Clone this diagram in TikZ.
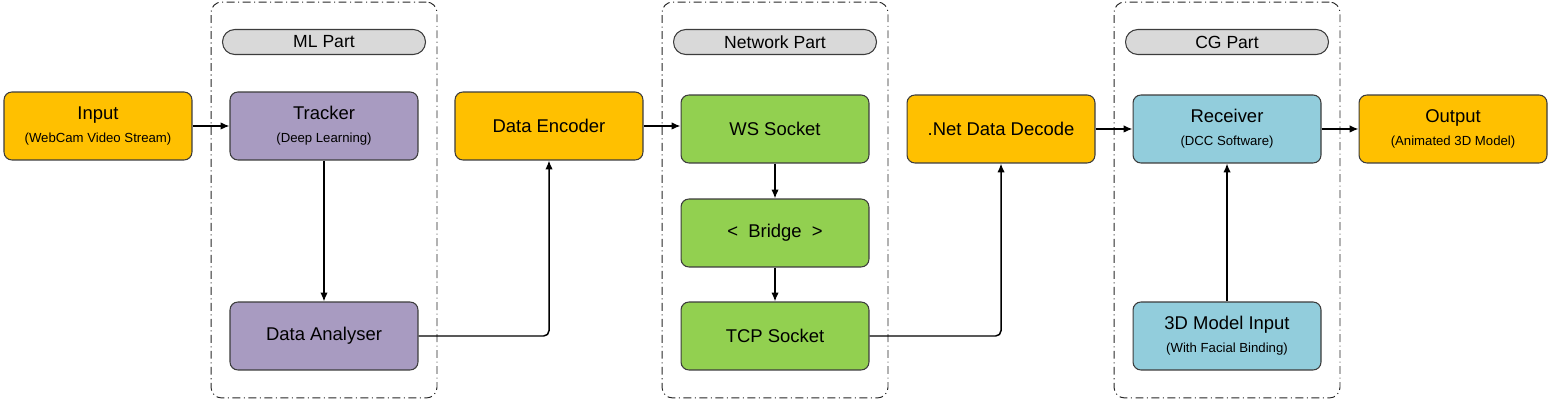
\documentclass[tikz,border=0pt]{standalone}
\usepackage{fontspec}
\setmainfont{Liberation Sans}
\usetikzlibrary{arrows.meta}
\definecolor{ioc}{RGB}{255,192,0}
\definecolor{mlc}{RGB}{168,155,193}
\definecolor{netc}{RGB}{146,208,80}
\definecolor{cgc}{RGB}{146,205,220}
\definecolor{tagc}{RGB}{217,217,217}
\definecolor{edgec}{RGB}{60,60,60}
\newcommand{\subtxt}[1]{{\fontsize{7.5}{9}\selectfont #1}}

\begin{document}
\begin{tikzpicture}[x=0.02cm,y=-0.02cm,>={Latex[length=5pt,width=4.2pt]},
  blk/.style={draw=edgec,line width=0.6pt,rounded corners=4.5pt,minimum width=3.76cm,
    minimum height=1.36cm,inner sep=0pt,align=center,font=\fontsize{10.5}{13}\selectfont},
  partbox/.style={draw=black!85,line width=0.55pt,rounded corners=6pt,
    dash pattern=on 4.5pt off 2pt on 0.6pt off 2pt,minimum width=4.52cm,minimum height=7.92cm,inner sep=0pt},
  tag/.style={draw=edgec,fill=tagc,line width=0.6pt,rounded corners=7pt,minimum width=4.06cm,
    minimum height=0.5cm,inner sep=0pt,font=\fontsize{10}{12}\selectfont},
  conn/.style={->,line width=0.85pt}]
\useasboundingbox (0,0) rectangle (1551,401);
% dash-dot frames of the three parts
\node[partbox] (mlpart) at (324,200) {};
\node[partbox] (netpart) at (775,200) {};
\node[partbox] (cgpart) at (1227,200) {};
\node[tag] (mltag) at (324,42) {ML Part};
\node[tag] (nettag) at (775,42) {Network Part};
\node[tag] (cgtag) at (1227,42) {CG Part};
% blocks
\node[blk,fill=ioc] (in) at (98,126) {Input\\\subtxt{(WebCam Video Stream)}};
\node[blk,fill=mlc] (trk) at (324,126) {Tracker\\\subtxt{(Deep Learning)}};
\node[blk,fill=mlc] (ana) at (324,336) {Data Analyser};
\node[blk,fill=ioc] (enc) at (549,126) {Data Encoder};
\node[blk,fill=netc] (ws) at (775,129) {WS Socket};
\node[blk,fill=netc] (brg) at (775,233) {<\ \ Bridge\ \ >};
\node[blk,fill=netc] (tcp) at (775,336) {TCP Socket};
\node[blk,fill=ioc] (dec) at (1001,129) {.Net Data Decode};
\node[blk,fill=cgc] (rcv) at (1227,129) {Receiver\\\subtxt{(DCC Software)}};
\node[blk,fill=ioc] (out) at (1453,129) {Output\\\subtxt{(Animated 3D Model)}};
\node[blk,fill=cgc] (mdl) at (1227,336) {3D Model Input\\\subtxt{(With Facial Binding)}};
% connectors
\draw[conn] (in) -- (trk);
\draw[conn] (trk) -- (ana);
\draw[conn,rounded corners=3pt] (ana.east) -| (enc.south);
\draw[conn] (enc.east) -- (enc.east -| ws.west);
\draw[conn] (ws) -- (brg);
\draw[conn] (brg) -- (tcp);
\draw[conn,rounded corners=3pt] (tcp.east) -| (dec.south);
\draw[conn] (dec) -- (rcv);
\draw[conn] (rcv) -- (out);
\draw[conn] (mdl) -- (rcv);
\end{tikzpicture}
\end{document}
